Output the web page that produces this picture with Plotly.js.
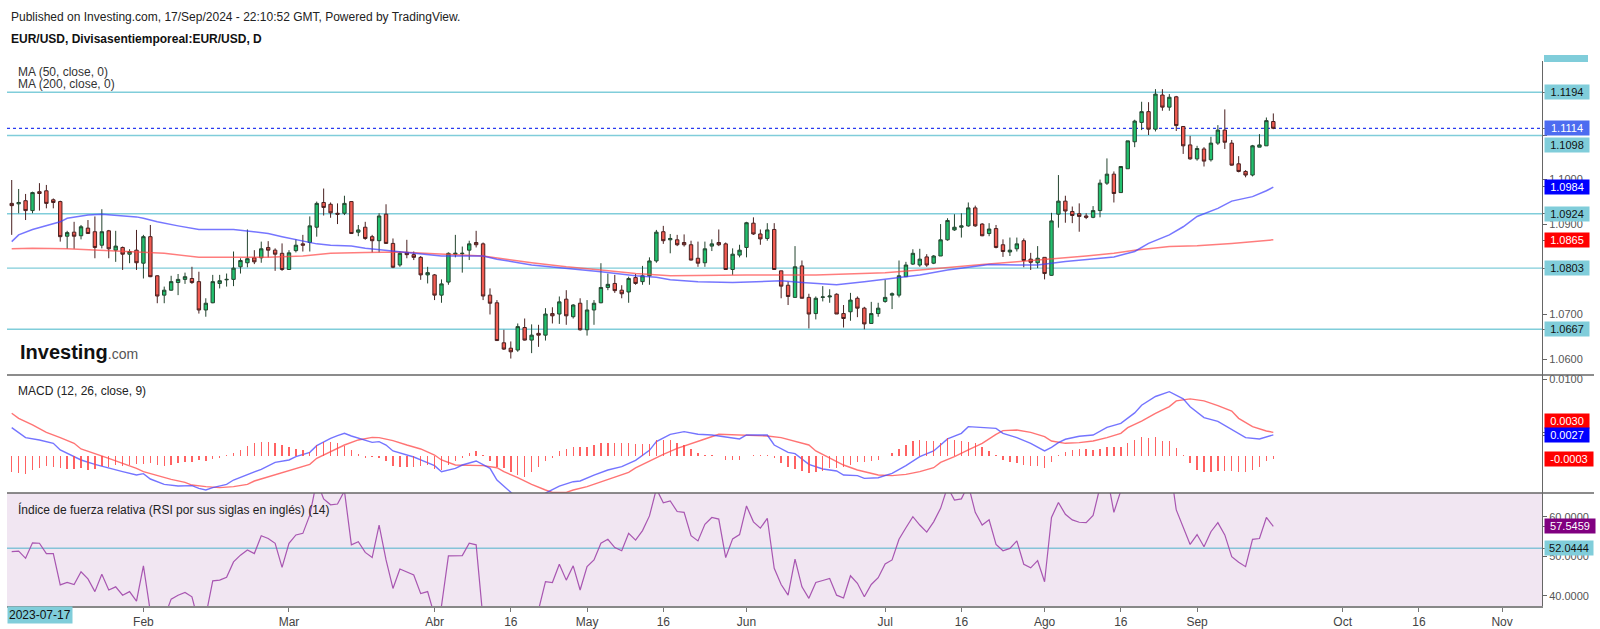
<!DOCTYPE html>
<html><head><meta charset="utf-8">
<script src="https://cdn.plot.ly/plotly-3.0.1.min.js"></script>
<style>html,body{margin:0;padding:0;background:#fff}#chart{width:1600px;height:629px}</style>
</head><body><div id="chart"></div>
<script>
// ---------------- DATA ----------------
const firstDay = '2024-01-05';
const tickDates  = ['2024-02-01','2024-03-01','2024-04-01','2024-04-16','2024-05-01','2024-05-16','2024-06-03','2024-07-01','2024-07-16','2024-08-01','2024-08-16','2024-09-02','2024-10-01','2024-10-16','2024-11-01'];
const tickLabels = ['Feb','Mar','Abr','16','May','16','Jun','Jul','16','Ago','16','Sep','Oct','16','Nov'];

const open = [1.0947,1.0946,1.0953,1.0931,1.0973,1.0975,1.0955,1.0951,1.0874,1.0883,
1.0875,1.0892,1.0884,1.0854,1.0886,1.0843,1.0849,1.0834,1.0843,1.0814,
1.0873,1.0786,1.0743,1.0754,1.0771,1.0778,1.0780,1.0773,1.0710,1.0726,
1.0769,1.0777,1.0778,1.0806,1.0815,1.0826,1.0826,1.0849,1.0843,1.0836,
1.0800,1.0842,1.0857,1.0860,1.0894,1.0949,1.0945,1.0925,1.0925,1.0951,
1.0883,1.0894,1.0873,1.0864,1.0923,1.0858,1.0810,1.0838,1.0833,1.0827,
1.0788,1.0788,1.0743,1.0772,1.0834,1.0835,1.0843,1.0860,1.0857,1.0743,
1.0726,1.0637,1.0625,1.0621,1.0671,1.0643,1.0658,1.0654,1.0702,1.0701,
1.0734,1.0695,1.0725,1.0666,1.0710,1.0726,1.0760,1.0769,1.0754,1.0750,
1.0782,1.0773,1.0786,1.0819,1.0884,1.0866,1.0866,1.0860,1.0855,1.0825,
1.0815,1.0852,1.0860,1.0857,1.0800,1.0832,1.0849,1.0903,1.0879,1.0869,
1.0889,1.0797,1.0765,1.0738,1.0808,1.0738,1.0702,1.0738,1.0739,1.0745,
1.0702,1.0706,1.0736,1.0714,1.0680,1.0702,1.0729,1.0743,1.0743,1.0784,
1.0812,1.0810,1.0828,1.0814,1.0830,1.0866,1.0888,1.0894,1.0897,1.0937,
1.0901,1.0880,1.0891,1.0855,1.0839,1.0846,1.0864,1.0823,1.0815,1.0827,
1.0787,1.0923,1.0952,1.0929,1.0924,1.0919,1.0916,1.0931,1.0992,1.1012,
1.0971,1.1024,1.1084,1.1127,1.1151,1.1112,1.1188,1.1161,1.1184,1.1118,
1.1077,1.1046,1.1068,1.1044,1.1081,1.1110,1.1081,1.1035,1.1018,1.1010,
1.1072,1.1075,1.1129];
const high = [1.0999,1.0979,1.0968,1.0973,1.0992,1.0988,1.0958,1.0953,1.0886,1.0906,
1.0899,1.0910,1.0918,1.0934,1.0888,1.0886,1.0851,1.0845,1.0888,1.0877,
1.0899,1.0787,1.0762,1.0786,1.0790,1.0793,1.0806,1.0795,1.0736,1.0788,
1.0788,1.0791,1.0840,1.0825,1.0889,1.0843,1.0862,1.0863,1.0847,1.0858,
1.0843,1.0867,1.0877,1.0918,1.0951,1.0980,1.0949,1.0947,1.0964,1.0952,
1.0899,1.0906,1.0877,1.0925,1.0945,1.0869,1.0840,1.0866,1.0840,1.0830,
1.0806,1.0790,1.0778,1.0838,1.0877,1.0851,1.0864,1.0886,1.0860,1.0758,
1.0732,1.0666,1.0640,1.0680,1.0691,1.0678,1.0677,1.0714,1.0716,1.0740,
1.0754,1.0723,1.0736,1.0732,1.0732,1.0814,1.0791,1.0788,1.0765,1.0784,
1.0790,1.0808,1.0827,1.0888,1.0897,1.0879,1.0877,1.0878,1.0864,1.0862,
1.0862,1.0867,1.0889,1.0860,1.0847,1.0855,1.0906,1.0916,1.0889,1.0903,
1.0903,1.0797,1.0773,1.0852,1.0820,1.0746,1.0740,1.0763,1.0756,1.0747,
1.0721,1.0748,1.0740,1.0717,1.0728,1.0726,1.0777,1.0749,1.0820,1.0817,
1.0845,1.0846,1.0834,1.0832,1.0901,1.0914,1.0923,1.0925,1.0949,1.0942,
1.0903,1.0903,1.0899,1.0867,1.0871,1.0871,1.0869,1.0837,1.0852,1.0827,
1.0926,1.1010,1.0964,1.0940,1.0947,1.0925,1.0941,1.1000,1.1047,1.1018,
1.1030,1.1086,1.1133,1.1173,1.1172,1.1201,1.1201,1.1190,1.1186,1.1119,
1.1097,1.1075,1.1072,1.1095,1.1121,1.1156,1.1088,1.1052,1.1021,1.1077,
1.1101,1.1138,1.1147];
const low = [1.0877,1.0925,1.0910,1.0925,1.0931,1.0936,1.0936,1.0862,1.0846,1.0846,
1.0867,1.0879,1.0825,1.0847,1.0825,1.0817,1.0799,1.0814,1.0799,1.0780,
1.0783,1.0725,1.0725,1.0753,1.0743,1.0768,1.0768,1.0702,1.0695,1.0725,
1.0758,1.0762,1.0763,1.0791,1.0805,1.0812,1.0815,1.0827,1.0797,1.0797,
1.0799,1.0838,1.0840,1.0840,1.0873,1.0920,1.0915,1.0901,1.0921,1.0879,
1.0874,1.0866,1.0838,1.0838,1.0857,1.0803,1.0806,1.0825,1.0821,1.0777,
1.0769,1.0732,1.0726,1.0766,1.0827,1.0793,1.0821,1.0849,1.0732,1.0700,
1.0642,1.0621,1.0602,1.0617,1.0642,1.0614,1.0628,1.0642,1.0680,1.0679,
1.0677,1.0691,1.0664,1.0653,1.0677,1.0725,1.0754,1.0748,1.0736,1.0726,
1.0766,1.0766,1.0766,1.0815,1.0857,1.0836,1.0852,1.0851,1.0820,1.0806,
1.0806,1.0841,1.0852,1.0800,1.0788,1.0827,1.0827,1.0877,1.0855,1.0864,
1.0800,1.0736,1.0721,1.0738,1.0736,1.0669,1.0689,1.0729,1.0726,1.0701,
1.0671,1.0686,1.0694,1.0667,1.0680,1.0695,1.0726,1.0712,1.0738,1.0784,
1.0810,1.0806,1.0806,1.0812,1.0830,1.0864,1.0886,1.0871,1.0895,1.0895,
1.0874,1.0874,1.0847,1.0828,1.0830,1.0840,1.0805,1.0799,1.0803,1.0778,
1.0786,1.0893,1.0904,1.0903,1.0884,1.0912,1.0914,1.0916,1.0988,1.0949,
1.0971,1.1024,1.1072,1.1110,1.1099,1.1107,1.1153,1.1153,1.1108,1.1057,
1.1044,1.1042,1.1029,1.1040,1.1077,1.1068,1.1031,1.1016,1.1005,1.1007,
1.1072,1.1075,1.1112];
const close = [1.0942,1.0949,1.0931,1.0971,1.0969,1.0947,1.0949,1.0873,1.0882,1.0874,
1.0895,1.0880,1.0849,1.0884,1.0846,1.0852,1.0834,1.0840,1.0815,1.0873,
1.0784,1.0741,1.0754,1.0773,1.0778,1.0784,1.0771,1.0710,1.0725,1.0773,
1.0775,1.0778,1.0803,1.0820,1.0824,1.0817,1.0846,1.0843,1.0834,1.0800,
1.0837,1.0854,1.0854,1.0897,1.0947,1.0938,1.0926,1.0923,1.0947,1.0880,
1.0888,1.0869,1.0864,1.0919,1.0858,1.0805,1.0836,1.0833,1.0827,1.0788,
1.0793,1.0743,1.0768,1.0836,1.0836,1.0836,1.0857,1.0855,1.0741,1.0725,
1.0642,1.0623,1.0617,1.0673,1.0643,1.0654,1.0654,1.0701,1.0697,1.0728,
1.0697,1.0721,1.0666,1.0710,1.0725,1.0760,1.0767,1.0753,1.0746,1.0780,
1.0769,1.0786,1.0819,1.0883,1.0864,1.0869,1.0855,1.0855,1.0821,1.0814,
1.0846,1.0857,1.0855,1.0800,1.0834,1.0843,1.0904,1.0879,1.0868,1.0888,
1.0800,1.0763,1.0740,1.0806,1.0736,1.0701,1.0736,1.0739,1.0741,1.0701,
1.0691,1.0732,1.0714,1.0679,1.0702,1.0714,1.0738,1.0746,1.0786,1.0810,
1.0836,1.0823,1.0810,1.0830,1.0866,1.0909,1.0894,1.0897,1.0937,1.0897,
1.0875,1.0890,1.0849,1.0840,1.0843,1.0857,1.0820,1.0816,1.0825,1.0791,
1.0908,1.0952,1.0930,1.0920,1.0918,1.0916,1.0931,1.0992,1.1012,1.0969,
1.1029,1.1086,1.1130,1.1151,1.1112,1.1190,1.1161,1.1183,1.1120,1.1075,
1.1046,1.1069,1.1041,1.1081,1.1110,1.1083,1.1032,1.1018,1.1010,1.1075,
1.1077,1.1131,1.1114];

// moving averages, read at sample bars
const ma50Bar = [0,1,3,5,7,8,11,13,15,18,19,21,24,27,32,34,37,39,42,44,46,49,51,54,56,58,62,68,70,75,80,85,90,93,95,99,104,107,111,114,119,123,127,131,135,141,145,148,152,155,157,159,162,164,167,169,171,174,176,179,181,182];
const ma50 = [1.0862,1.0877,1.0889,1.0897,1.0906,1.0914,1.0921,1.0923,1.0921,1.0917,1.0914,1.0906,1.0897,1.0889,1.0889,1.0886,1.0880,1.0873,1.0864,1.0857,1.0854,1.0852,1.0847,1.0842,1.0840,1.0836,1.0830,1.0830,1.0823,1.0810,1.0803,1.0795,1.0786,1.0783,1.0777,1.0773,1.0771,1.0773,1.0775,1.0771,1.0766,1.0773,1.0780,1.0788,1.0799,1.0811,1.0810,1.0810,1.0818,1.0822,1.0825,1.0828,1.0840,1.0858,1.0877,1.0895,1.0918,1.0936,1.0952,1.0962,1.0975,1.0983];
const ma200Bar = [0,3,8,13,17,22,27,37,42,46,51,56,61,68,75,80,85,90,95,106,116,121,126,131,135,140,145,150,155,159,162,167,171,176,182];
const ma200 = [1.0846,1.0847,1.0846,1.0843,1.0840,1.0836,1.0827,1.0827,1.0830,1.0836,1.0838,1.0839,1.0835,1.0830,1.0815,1.0806,1.0799,1.0791,1.0786,1.0788,1.0788,1.0791,1.0793,1.0799,1.0805,1.0811,1.0817,1.0823,1.0830,1.0836,1.0843,1.0851,1.0853,1.0858,1.0866];

// MACD (12,26,9) lines, read at sample bars
const macdBar = [0,1,2,4,6,7,9,10,12,14,16,18,19,20,22,24,26,27,28,29,31,32,34,36,38,40,41,43,44,46,47,48,49,50,52,53,54,55,57,58,59,61,62,64,65,67,69,70,72,73,74,75,76,77,79,81,82,84,86,88,90,91,92,93,95,97,99,101,103,105,106,109,110,112,113,115,117,119,120,122,123,125,127,129,131,133,135,137,138,140,142,143,145,147,149,150,151,152,153,154,156,158,160,162,163,165,167,169,170,172,174,176,178,180,182];
const macd = [0.00367,0.00306,0.00236,0.00206,0.00162,0.00075,-0.00013,-0.00056,-0.00113,-0.00165,-0.00209,-0.00253,-0.00235,-0.00305,-0.00375,-0.00397,-0.00392,-0.00427,-0.00449,-0.00418,-0.00375,-0.00318,-0.00244,-0.00178,-0.00087,-0.00056,-0.00013,0.00044,0.00131,0.00227,0.00262,0.00293,0.00258,0.00227,0.00175,0.00184,0.00140,0.00062,0.00009,-0.00017,-0.00056,-0.00130,-0.00209,-0.00165,-0.00122,-0.00069,-0.00165,-0.00318,-0.00480,-0.0056,-0.0060,-0.0059,-0.0055,-0.0049,-0.00397,-0.00340,-0.00331,-0.00253,-0.00187,-0.00144,-0.0006,0.0001,0.0007,0.00184,0.00280,0.00315,0.00280,0.00271,0.00240,0.00219,0.00271,0.00271,0.00140,0.00044,0.00027,-0.00113,-0.00174,-0.00200,-0.00253,-0.00261,-0.00296,-0.00288,-0.00231,-0.00130,-0.00013,0.00062,0.00219,0.00293,0.00380,0.00367,0.00358,0.00293,0.00236,0.00162,0.00062,0.00110,0.00170,0.00215,0.00240,0.00255,0.00271,0.00370,0.00424,0.00560,0.00660,0.00775,0.00838,0.00745,0.00640,0.00498,0.00450,0.00345,0.00236,0.00219,0.00272];
const sigBar = [0,1,3,5,7,9,10,12,14,16,18,19,21,23,25,26,28,30,32,34,35,37,39,41,43,44,46,48,50,52,53,55,57,59,61,62,64,66,68,70,71,73,75,77,78,80,81,83,85,87,89,90,92,94,96,98,100,102,104,107,109,111,113,115,116,118,120,122,124,125,127,129,131,133,134,136,138,140,142,143,145,147,149,150,152,154,156,158,160,161,163,165,167,168,170,172,174,176,177,179,181,182];
const signal = [0.00555,0.00489,0.00402,0.00306,0.00236,0.00162,0.00088,0.00031,-0.00034,-0.00100,-0.00165,-0.00209,-0.00261,-0.00309,-0.00349,-0.00384,-0.00405,-0.00418,-0.00405,-0.00375,-0.00331,-0.00274,-0.00218,-0.00165,-0.00113,-0.00034,0.00053,0.00140,0.00206,0.00240,0.00236,0.00197,0.00140,0.00088,0.00009,-0.00056,-0.00122,-0.00130,-0.00130,-0.00157,-0.00209,-0.00288,-0.00375,-0.00449,-0.00480,-0.00480,-0.00449,-0.00405,-0.00340,-0.00274,-0.00218,-0.00160,-0.00070,0.00018,0.00097,0.00162,0.00219,0.00280,0.00271,0.00262,0.00258,0.00236,0.00192,0.00140,0.00062,-0.00034,-0.00122,-0.00187,-0.00231,-0.00253,-0.00261,-0.00244,-0.00209,-0.00157,-0.00087,-0.00013,0.00075,0.00162,0.00280,0.00328,0.00336,0.00306,0.00249,0.00192,0.00162,0.00171,0.00192,0.00236,0.00293,0.00367,0.00454,0.00555,0.00642,0.00717,0.00743,0.00717,0.00655,0.00585,0.00489,0.00380,0.00323,0.00306];
// MACD histogram, one per bar (drawn on its own scale)
const hist = [-0.00152,-0.00161,-0.00170,-0.00130,-0.00109,-0.00091,-0.00100,-0.00109,-0.00121,-0.00121,
-0.00115,-0.00130,-0.00121,-0.00091,-0.00100,-0.00085,-0.00091,-0.00085,-0.00079,-0.00079,
-0.00070,-0.00085,-0.00091,-0.00085,-0.00070,-0.00061,-0.00061,-0.00039,-0.00048,-0.00030,
-0.00024,0.00006,0.00021,0.00052,0.00091,0.00112,0.00127,0.00121,0.00112,0.00097,
0.00082,0.00061,0.00052,0.00036,0.00097,0.00127,0.00127,0.00112,0.00091,0.00052,
0.00012,-0.00018,-0.00009,-0.00024,-0.00048,-0.00091,-0.00100,-0.00100,-0.00100,-0.00091,
-0.00085,-0.00121,-0.00130,-0.00085,-0.00048,-0.00018,0.00024,0.00042,0.00006,-0.00048,
-0.00100,-0.00115,-0.00145,-0.00176,-0.00191,-0.00145,-0.00100,-0.00048,-0.00018,0.00042,
0.00061,0.00082,0.00082,0.00082,0.00097,0.00112,0.00112,0.00112,0.00112,0.00112,
0.00103,0.00106,0.00106,0.00142,0.00142,0.00142,0.00118,0.00097,0.00061,0.00021,
0.00006,0.00003,-0.00003,-0.00039,-0.00039,-0.00039,-0.00003,0.00006,0.00003,0.00006,
-0.00018,-0.00070,-0.00100,-0.00121,-0.00136,-0.00161,-0.00145,-0.00139,-0.00115,-0.00109,
-0.00100,-0.00085,-0.00061,-0.00055,-0.00048,-0.00039,-0.00003,0.00021,0.00061,0.00097,
0.00133,0.00142,0.00133,0.00133,0.00112,0.00158,0.00142,0.00133,0.00127,0.00112,
0.00082,0.00042,0.00003,-0.00039,-0.00061,-0.00070,-0.00085,-0.00091,-0.00091,-0.00109,
-0.00061,0.00006,0.00036,0.00052,0.00061,0.00061,0.00052,0.00061,0.00082,0.00082,
0.00082,0.00112,0.00142,0.00167,0.00158,0.00167,0.00133,0.00133,0.00073,0.00003,
-0.00070,-0.00130,-0.00152,-0.00145,-0.00139,-0.00139,-0.00139,-0.00145,-0.00152,-0.00130,
-0.00100,-0.00048,-0.00030];
// RSI (14), one per bar
const rsi = [51.2,51.3,49.5,53.4,53.3,50.7,50.7,42.8,43.4,42.9,
46.1,44.3,41.1,45.5,41.5,42.3,40.2,41.1,38.7,47.6,
36.0,32.0,34.5,39.2,40.2,40.9,39.8,33.0,35.0,43.8,
44.0,44.7,48.6,50.3,51.6,50.7,55.2,54.5,53.3,47.2,
53.3,55.4,55.8,60.4,69.0,64.5,63.0,63.2,66.5,52.9,
53.7,51.0,49.7,57.9,49.1,41.9,46.8,46.1,45.3,40.6,
41.1,35.0,37.5,50.1,50.1,50.2,53.3,52.9,34.0,31.0,
25.0,24.0,23.5,32.0,29.5,31.5,36.5,43.6,43.4,48.0,
44.0,47.6,41.5,47.4,49.1,53.3,54.3,52.2,51.4,55.8,
54.1,56.5,60.2,67.0,63.5,64.0,61.3,61.1,55.2,53.9,
58.1,59.8,59.4,49.7,54.4,55.5,62.7,58.7,57.1,59.6,
47.0,42.9,40.2,49.3,42.3,39.4,43.4,43.9,44.4,40.2,
39.5,45.1,43.2,39.8,42.9,44.6,48.1,49.1,54.3,57.2,
60.0,57.9,56.1,58.7,62.1,67.5,64.2,64.5,68.0,61.1,
57.9,59.2,53.0,51.4,52.0,53.9,48.0,47.1,48.9,43.6,
59.8,63.6,60.6,59.2,58.6,58.5,60.3,67.5,70.5,61.1,
67.0,72.0,75.0,76.0,72.0,76.0,74.0,74.0,61.7,57.1,
53.0,55.5,52.4,56.2,58.5,55.4,49.9,48.5,47.4,54.3,
54.5,59.8,57.55];

// horizontal levels and right-axis tags
const priceLevels = [1.1194, 1.1098, 1.0924, 1.0803, 1.0667];
const lastPrice = 1.1114, lastMA50 = 1.0984, lastMA200 = 1.0865;
const lastSignal = 0.0030, lastMacd = 0.0027, lastHist = -0.0003;
const lastRsi = 57.5459, rsiLevel = 52.0444;

// ---------------- BUILD ----------------
function tradingDays(startISO, count) {
  const out = []; const d = new Date(startISO + 'T00:00:00Z');
  while (out.length < count) {
    const wd = d.getUTCDay();
    if (wd !== 0 && wd !== 6) out.push(d.toISOString().slice(0, 10));
    d.setUTCDate(d.getUTCDate() + 1);
  }
  return out;
}
const calendar = tradingDays(firstDay, 230);
const dates = calendar.slice(0, close.length);
const bar = dates.map(d => calendar.indexOf(d));
const tickvals = tickDates.map(d => calendar.indexOf(d));

const FONT = "'Liberation Sans', Arial, sans-serif";
const CYAN = '#80cdda';
const PX = x => (x - 7) / 1535, PY = y => (606 - y) / 545;

const traces = [
  {type:'candlestick', x:bar, open, high, low, close, xaxis:'x', yaxis:'y', hoverinfo:'skip',
   whiskerwidth:0,
   increasing:{fillcolor:'#22c06e', line:{color:'#24452f', width:1}},
   decreasing:{fillcolor:'#f25c52', line:{color:'#4a2020', width:1}}},
  {type:'scatter', mode:'lines', x:ma200Bar, y:ma200, xaxis:'x', yaxis:'y', line:{color:'rgba(255,70,70,0.7)', width:1.5}, hoverinfo:'skip'},
  {type:'scatter', mode:'lines', x:ma50Bar, y:ma50, xaxis:'x', yaxis:'y', line:{color:'rgba(60,60,255,0.7)', width:1.5}, hoverinfo:'skip'},
  {type:'bar', x:bar, y:hist, xaxis:'x', yaxis:'y3', width:0.2, marker:{color:'rgba(255,70,70,0.85)', line:{width:0}}, hoverinfo:'skip'},
  {type:'scatter', mode:'lines', x:sigBar, y:signal, xaxis:'x', yaxis:'y2', line:{color:'rgba(255,70,70,0.75)', width:1.4}, hoverinfo:'skip'},
  {type:'scatter', mode:'lines', x:macdBar, y:macd, xaxis:'x', yaxis:'y2', line:{color:'rgba(70,70,255,0.75)', width:1.4}, hoverinfo:'skip'},
  {type:'scatter', mode:'lines', x:bar, y:rsi, xaxis:'x', yaxis:'y4', line:{color:'rgba(160,70,170,0.9)', width:1.2}, hoverinfo:'skip'}
];

const yCommon = {side:'right', anchor:'x', showgrid:false, zeroline:false, showline:true, linecolor:'#666', linewidth:1,
  ticks:'outside', ticklen:4, tickcolor:'#666', tickfont:{family:FONT, size:11, color:'#555'}, fixedrange:true};

const shapes = [];
shapes.push({type:'rect', xref:'paper', yref:'paper', x0:0, x1:1, y0:0, y1:PY(493), fillcolor:'#f1e6f2', line:{width:0}, layer:'below'});
priceLevels.forEach(v => shapes.push({type:'line', xref:'paper', yref:'y', x0:0, x1:1, y0:v, y1:v, line:{color:CYAN, width:1.4}, layer:'below'}));
shapes.push({type:'line', xref:'paper', yref:'y', x0:0, x1:1, y0:lastPrice, y1:lastPrice, line:{color:'#2b3cf0', width:1.2, dash:'dot'}, layer:'below'});
shapes.push({type:'line', xref:'paper', yref:'y4', x0:0, x1:1, y0:rsiLevel, y1:rsiLevel, line:{color:'#86c3d8', width:1.4}, layer:'below'});
shapes.push({type:'line', xref:'paper', yref:'paper', x0:0, x1:PX(1594), y0:PY(375), y1:PY(375), line:{color:'#666', width:1.5}});
shapes.push({type:'line', xref:'paper', yref:'paper', x0:0, x1:PX(1594), y0:PY(493), y1:PY(493), line:{color:'#666', width:1.5}});
shapes.push({type:'rect', xref:'paper', yref:'paper', x0:PX(1544), x1:PX(1588), y0:PY(62), y1:PY(55), fillcolor:CYAN, line:{width:0}});

function tag(text, yref, y, bg, fg, yshift, w) {
  return {xref:'paper', x:1, xanchor:'left', xshift:2, yref, y, yanchor:'middle', yshift:yshift || 0,
    text, showarrow:false, bgcolor:bg, font:{family:FONT, size:11, color:fg}, width:w || 42, height:12, borderpad:1, align:'center'};
}
function txt(text, x, y, size, color, extra) {
  return Object.assign({xref:'paper', yref:'paper', x:PX(x), y:PY(y), xanchor:'left', yanchor:'middle', text, showarrow:false,
    font:{family:FONT, size, color}}, extra || {});
}
const annotations = [
  txt('Published on Investing.com, 17/Sep/2024 - 22:10:52 GMT, Powered by TradingView.', 9, 17, 12, '#222'),
  txt('<b>EUR/USD, Divisasentiemporeal:EUR/USD, D</b>', 9, 39, 12, '#111'),
  txt('MA (50, close, 0)', 16, 72, 12, '#333'),
  txt('MA (200, close, 0)', 16, 84, 12, '#333'),
  txt('MACD (12, 26, close, 9)', 16, 391, 12, '#222'),
  txt('Índice de fuerza relativa (RSI por sus siglas en inglés) (14)', 16, 509, 12, '#222'),
  txt('<b>Investing</b><span style="font-size:14px;color:#555">.com</span>', 18, 352, 20, '#111'),
  txt('2023-07-17', 7, 615, 12, '#111', {bgcolor:CYAN, borderpad:1}),
  tag('1.1194', 'y', 1.1194, CYAN, '#111'),
  tag(lastPrice.toFixed(4), 'y', lastPrice, '#4d6cf0', '#fff'),
  tag('1.1098', 'y', 1.1098, CYAN, '#111', -9.5),
  tag(lastMA50.toFixed(4), 'y', lastMA50, '#0000ff', '#fff'),
  tag('1.0924', 'y', 1.0924, CYAN, '#111'),
  tag(lastMA200.toFixed(4), 'y', lastMA200, '#ff0000', '#fff'),
  tag('1.0803', 'y', 1.0803, CYAN, '#111'),
  tag('1.0667', 'y', 1.0667, CYAN, '#111'),
  tag(lastSignal.toFixed(4), 'y2', lastSignal, '#ff0000', '#fff', 12),
  tag(lastMacd.toFixed(4), 'y2', lastMacd, '#0000ff', '#fff'),
  tag(lastHist.toFixed(4), 'y3', lastHist, '#ff0000', '#fff', 0, 46),
  tag(lastRsi.toFixed(4), 'y4', lastRsi, '#800080', '#fff', 0, 48),
  tag(rsiLevel.toFixed(4), 'y4', rsiLevel, CYAN, '#111', 0, 46)
];

const layout = {
  width:1600, height:629, margin:{l:7, r:58, t:61, b:23, pad:0},
  paper_bgcolor:'#fff', plot_bgcolor:'rgba(0,0,0,0)', showlegend:false,
  font:{family:FONT, size:12, color:'#333'}, bargap:0,
  xaxis:{range:[-0.68, 220.76], anchor:'y4', showgrid:false, zeroline:false, showline:true, linecolor:'#888', linewidth:1.5,
    ticks:'outside', ticklen:4, tickcolor:'#777', tickvals, ticktext:tickLabels, tickfont:{family:FONT, size:12, color:'#444'},
    rangeslider:{visible:false}, fixedrange:true},
  yaxis:Object.assign({}, yCommon, {domain:[PY(375), 1], range:[1.05654, 1.12636],
    tickvals:[1.1194,1.1114,1.1098,1.1000,1.0984,1.0924,1.0900,1.0865,1.0803,1.0700,1.0667,1.0600],
    ticktext:['','','','1.1000','','','1.0900','','','1.0700','','1.0600']}),
  yaxis2:Object.assign({}, yCommon, {domain:[PY(493), PY(375)], range:[-0.00488, 0.01056],
    tickvals:[0.0100, 0.0030, 0.0027], ticktext:['0.0100','','']}),
  yaxis3:{overlaying:'y2', anchor:'x', side:'right', range:[-0.00339, 0.00734], visible:false, fixedrange:true},
  yaxis4:Object.assign({}, yCommon, {domain:[0, PY(493)], range:[37.47, 65.98],
    tickvals:[60, 57.5459, 52.0444, 50, 40], ticktext:['60.0000','','','50.0000','40.0000']}),
  shapes, annotations
};

Plotly.newPlot('chart', traces, layout, {staticPlot:true, displayModeBar:false});
</script>
</body></html>
